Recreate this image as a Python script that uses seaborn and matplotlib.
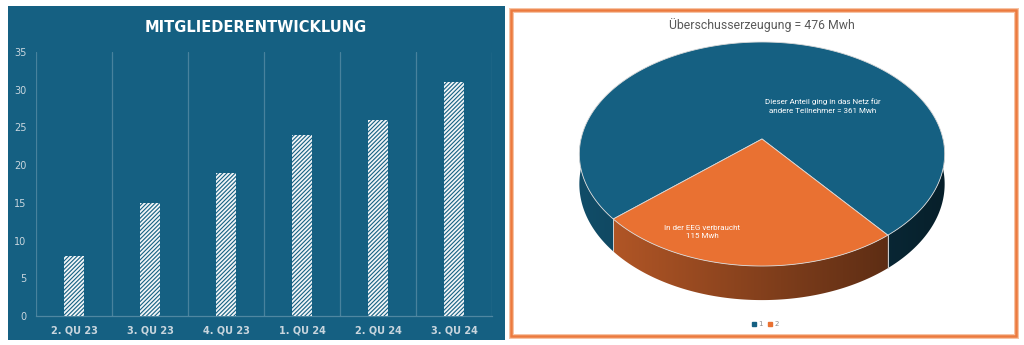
import numpy as np
import pandas as pd
import matplotlib
matplotlib.use("Agg")
import matplotlib.pyplot as plt
from matplotlib.patches import Rectangle, Polygon
from matplotlib.lines import Line2D
import seaborn as sns

# ---- data -------------------------------------------------------------
quarters = ["2. QU 23", "3. QU 23", "4. QU 23", "1. QU 24", "2. QU 24", "3. QU 24"]
members = [8, 15, 19, 24, 26, 31]

pie_values = [361, 115]          # Mwh
pie_names = ["1", "2"]
pie_labels = ["Dieser Anteil ging in das Netz für\nandere Teilnehmer = {} Mwh",
              "In der EEG verbraucht\n{} Mwh"]

BLUE = "#156082"
ORANGE = "#E97132"

sns.set_theme(style="white")
plt.rcParams["font.family"] = ["DejaVu Sans"]
plt.rcParams["hatch.linewidth"] = 0.8

fig = plt.figure(figsize=(10.24, 3.45), dpi=100)
fig.patch.set_facecolor("white")

# full-figure canvas in pixel units for the panels and the 3D pie
canvas = fig.add_axes([0, 0, 1, 1])
canvas.axis("off")

# left panel background
canvas.add_patch(Rectangle((8, 6), 497, 334, facecolor=BLUE, edgecolor="none", zorder=0))

# ---- bar chart ----------------------------------------------------------
ax = fig.add_axes([36 / 1024, 1 - 316 / 345, 456 / 1024, 264 / 345])
ax.set_facecolor("none")
df = pd.DataFrame({"Quartal": quarters, "Mitglieder": members})
sns.barplot(data=df, x="Quartal", y="Mitglieder", ax=ax, width=0.27,
            color="#F2F5F7", edgecolor=BLUE, linewidth=0, hatch="////////",
            saturation=1)
for p in ax.patches:
    p.set_facecolor("#F2F5F7")
    p.set_edgecolor(BLUE)
    p.set_linewidth(0)

ax.set_ylim(0, 35)
ax.set_xlim(-0.5, len(quarters) - 0.5)
ax.set_yticks(range(0, 36, 5))
ax.set_xticks(range(len(quarters)))
ax.set_xticklabels(quarters)
ax.set_xticks(np.arange(-0.5, len(quarters), 1), minor=True)
ax.grid(False)
ax.grid(which="minor", axis="x", color="#FFFFFF", alpha=0.22, linewidth=0.9)
ax.tick_params(axis="both", which="both", length=0)
ax.tick_params(axis="y", colors="#C9D6DE", labelsize=7, pad=7)
ax.tick_params(axis="x", colors="#C9D6DE", labelsize=7, pad=7)
for lab in ax.get_xticklabels():
    lab.set_fontweight("bold")
ax.set_xlabel("")
ax.set_ylabel("")
for side in ["top", "right", "left"]:
    ax.spines[side].set_visible(False)
ax.spines["bottom"].set_color("#FFFFFF")
ax.spines["bottom"].set_alpha(0.25)
ax.spines["bottom"].set_linewidth(0.9)

canvas.text(256, 27, "MITGLIEDERENTWICKLUNG", color="white", fontsize=10.5,
            fontweight="bold", ha="center", va="center")

# ---- right panel frame --------------------------------------------------
canvas.add_patch(Rectangle((511, 9.5), 505, 326, facecolor="white",
                           edgecolor="#F6C4A6", linewidth=3.6, zorder=1))
canvas.add_patch(Rectangle((511, 9.5), 505, 326, facecolor="none",
                           edgecolor="#EC7A3E", linewidth=1.8, zorder=2))

total = sum(pie_values)
canvas.text(762, 25, f"Überschusserzeugung = {total} Mwh", color="#595959",
            fontsize=8.8, family=["Roboto", "DejaVu Sans"], ha="center", va="center",
            zorder=5)

# ---- 3D pie (perspective projection of a flat disc) ---------------------
cx, cy = 762, 139
A, B, k, D = 181, 110, 0.134, 29.5


def project(theta_deg, depth=0.0):
    t = np.radians(theta_deg)
    u, v = np.cos(t), np.sin(t)
    s = 1.0 / (1.0 + k * v)
    return cx + A * u * s, cy - B * v * s + depth * s


spans = [360.0 * val / total for val in pie_values]
start = 265.0 + spans[1] / 2.0
bounds = []
a0 = start
for sp in spans:
    bounds.append((a0, a0 + sp))
    a0 += sp
colors = [BLUE, ORANGE]


def slice_at(theta):
    for i, (s0, s1) in enumerate(bounds):
        th = theta
        while th < s0:
            th += 360
        if th < s1:
            return i
    return 0


def shade_row(hexcol, xs):
    rgb = np.array(matplotlib.colors.to_rgb(hexcol))
    t = np.clip((xs - (cx - A)) / (2 * A), 0, 1)
    f = 0.80 - 0.47 * t
    return f[:, None] * rgb[None, :]


# side wall of the front half, shaded left to right
gx0, gx1 = cx - A - 6, cx + A + 6
xs = np.linspace(gx0, gx1, 400)
angles = np.arange(180, 360.001, 0.25)
owner = np.array([slice_at(a + 1e-6) for a in angles[:-1]])
runs = []
cur = [angles[0]]
for j in range(len(owner)):
    cur.append(angles[j + 1])
    if j == len(owner) - 1 or owner[j + 1] != owner[j]:
        runs.append((owner[j], np.array(cur)))
        cur = [angles[j + 1]]

for i, angs in runs:
    top = [project(a) for a in angs]
    bot = [project(a, D) for a in angs[::-1]]
    poly = Polygon(top + bot, closed=True, facecolor="none", edgecolor="none", zorder=3)
    canvas.add_patch(poly)
    grad = shade_row(colors[i], xs)[None, :, :]
    im = canvas.imshow(grad, extent=(gx0, gx1, cy + B * 1.3 + D * 1.3, cy - B * 1.3),
                       aspect="auto", interpolation="bilinear", zorder=3)
    im.set_clip_path(poly)

# slice edges on the side wall
for s0, s1 in bounds:
    for ang in (s0 % 360, s1 % 360):
        if 180 <= ang <= 360:
            xa, ya = project(ang)
            xb, yb = project(ang, D)
            canvas.plot([xa, xb], [ya, yb], color="#D0D0D0", lw=0.6, zorder=4)

# top faces
for i, (s0, s1) in enumerate(bounds):
    angs = np.linspace(s0, s1, 200)
    pts = [(cx, cy)] + [project(a) for a in angs]
    canvas.add_patch(Polygon(pts, closed=True, facecolor=colors[i],
                             edgecolor="#D9D9D9", linewidth=0.6, zorder=4))

# slice labels
lab_font = ["Roboto", "DejaVu Sans"]
canvas.text(823, 106, pie_labels[0].format(pie_values[0]), color="white",
            fontsize=5.8, family=lab_font, ha="center", va="center",
            linespacing=1.6, zorder=6)
canvas.text(702, 232, pie_labels[1].format(pie_values[1]), color="white",
            fontsize=5.8, family=lab_font, ha="center", va="center",
            linespacing=1.6, zorder=6)

# legend
handles = [Line2D([], [], marker="s", linestyle="none", markersize=2.2,
                  markerfacecolor=c, markeredgecolor=c) for c in colors]
leg = canvas.legend(handles, pie_names, loc="center", ncol=2, frameon=False,
                    bbox_to_anchor=(765, 324), bbox_transform=canvas.transData,
                    fontsize=5, handlelength=0.6, handletextpad=0.3,
                    columnspacing=0.8)
for t in leg.get_texts():
    t.set_color("#8C8C8C")

canvas.set_xlim(0, 1024)
canvas.set_ylim(345, 0)

fig.savefig("out.png", dpi=100, facecolor="white")
